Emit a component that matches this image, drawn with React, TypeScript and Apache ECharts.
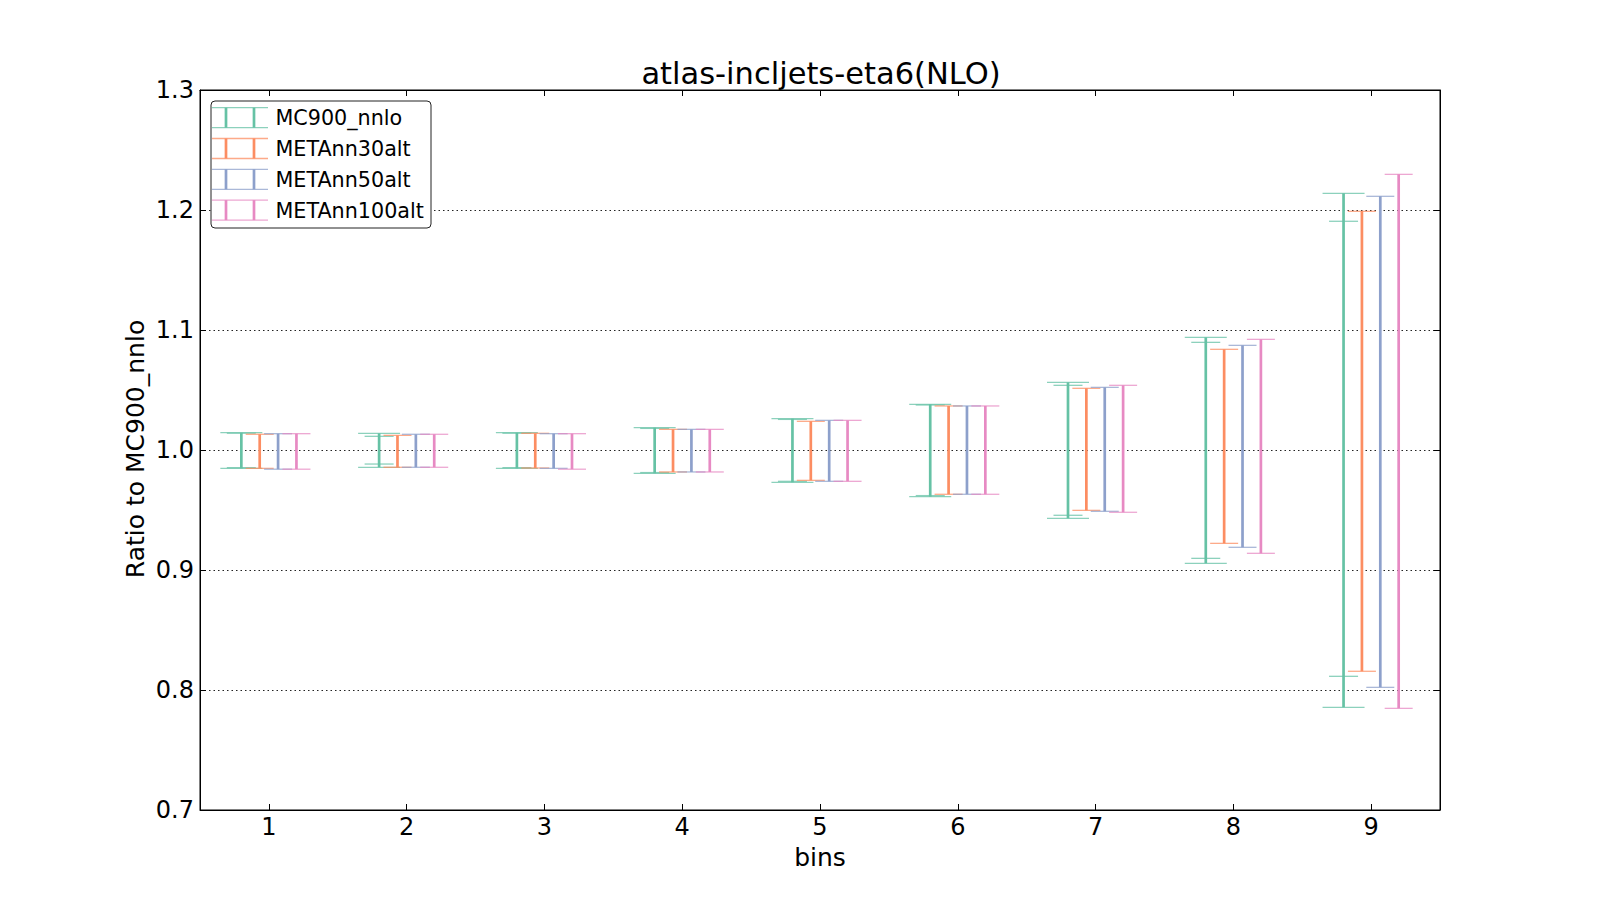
import React, { useEffect, useRef } from "react";
import * as echarts from "echarts";

const FONT = '"DejaVu Sans", "Liberation Sans", sans-serif';

const bins = [1, 2, 3, 4, 5, 6, 7, 8, 9];
const binLabels = ["1", "2", "3", "4", "5", "6", "7", "8", "9"];
const yTicks = [0.7, 0.8, 0.9, 1.0, 1.1, 1.2, 1.3];

const seriesNames = ["MC900_nnlo", "METAnn30alt", "METAnn50alt", "METAnn100alt"];
const seriesColors = ["#66c2a5", "#fc8d62", "#8da0cb", "#e78ac3"];

// MC900_nnlo reference uncertainty (outer, wide caps) and its inner band
const mc900OuterHigh = [1.0144, 1.0139, 1.0144, 1.0186, 1.0261, 1.0381, 1.0564, 1.0939, 1.2139];
const mc900OuterLow = [0.9847, 0.9856, 0.9847, 0.9806, 0.9731, 0.9611, 0.9431, 0.9056, 0.7856];
const mc900InnerHigh = [1.014, 1.0114, 1.014, 1.018, 1.0255, 1.0375, 1.0539, 1.0897, 1.1906];
const mc900InnerLow = [0.9853, 0.9883, 0.9853, 0.9812, 0.9739, 0.962, 0.9456, 0.9097, 0.8114];

const meta30High = [1.0131, 1.0122, 1.0139, 1.0172, 1.0239, 1.0367, 1.0514, 1.0839, 1.1989];
const meta30Low = [0.9847, 0.9856, 0.985, 0.9817, 0.9747, 0.9631, 0.9497, 0.9222, 0.8156];
const meta50High = [1.0136, 1.0131, 1.0136, 1.0172, 1.0247, 1.0367, 1.0522, 1.0872, 1.2114];
const meta50Low = [0.984, 0.9856, 0.9847, 0.9817, 0.9739, 0.9631, 0.9489, 0.9189, 0.8022];
const meta100High = [1.0136, 1.0131, 1.0136, 1.0172, 1.0247, 1.0367, 1.0539, 1.0922, 1.2297];
const meta100Low = [0.984, 0.9856, 0.984, 0.9817, 0.9739, 0.9631, 0.9481, 0.9139, 0.7847];

const offsets = [-0.2, -0.0667, 0.0667, 0.2];

function errSeries(
  name: string,
  low: number[],
  high: number[],
  offset: number,
  color: string,
  capHalf: number,
  drawVertical: boolean
) {
  return {
    type: "custom",
    name,
    xAxisIndex: 0,
    yAxisIndex: 0,
    data: bins.map((b, i) => [b, low[i], high[i]]),
    encode: { x: 0, y: [1, 2] },
    renderItem: (params: any, api: any) => {
      const x = api.value(0) + offset;
      const lo = api.coord([x, api.value(1)]);
      const hi = api.coord([x, api.value(2)]);
      const children: any[] = [];
      if (drawVertical) {
        children.push({
          type: "line",
          shape: { x1: hi[0], y1: hi[1], x2: lo[0], y2: lo[1] },
          style: { stroke: color, lineWidth: 2.7 },
        });
      }
      for (const p of [hi, lo]) {
        children.push({
          type: "line",
          shape: { x1: p[0] - capHalf, y1: p[1], x2: p[0] + capHalf, y2: p[1] },
          style: { stroke: color, lineWidth: 1.3, opacity: 0.75 },
        });
      }
      return { type: "group", children };
    },
  };
}

function legendGraphics() {
  const els: any[] = [];
  els.push({
    type: "rect",
    shape: { x: 211, y: 101, width: 220, height: 127, r: 4 },
    style: { fill: "#fff", stroke: "#222", lineWidth: 1 },
    z: 100,
  });
  seriesNames.forEach((n, i) => {
    const top = 107.7 + 30.8 * i;
    const bot = top + 20;
    const c = seriesColors[i];
    els.push({
      type: "line",
      shape: { x1: 212, y1: top, x2: 268, y2: top },
      style: { stroke: c, lineWidth: 1.3, opacity: 0.75 },
      z: 101,
    });
    els.push({
      type: "line",
      shape: { x1: 212, y1: bot, x2: 268, y2: bot },
      style: { stroke: c, lineWidth: 1.3, opacity: 0.75 },
      z: 101,
    });
    for (const vx of [226, 254]) {
      els.push({
        type: "line",
        shape: { x1: vx, y1: top, x2: vx, y2: bot },
        style: { stroke: c, lineWidth: 2.7 },
        z: 101,
      });
    }
    els.push({
      type: "text",
      x: 275.5,
      y: top + 10.5,
      style: {
        text: n,
        font: `20.7px ${FONT}`,
        fill: "#000",
        textAlign: "left",
        textVerticalAlign: "middle",
      },
      z: 101,
    });
  });
  return els;
}

export default function App() {
  const ref = useRef<HTMLDivElement>(null);
  useEffect(() => {
    if (!ref.current) return;
    const chart = echarts.init(ref.current, null, { renderer: "svg" });
    const axisLabelStyle = { color: "#000", fontSize: 24, fontFamily: FONT };
    chart.setOption({
      animation: false,
      backgroundColor: "#fff",
      grid: {
        left: 200,
        top: 90,
        width: 1240,
        height: 720,
        show: true,
        borderColor: "#000",
        borderWidth: 1,
        backgroundColor: "transparent",
      },
      xAxis: [
        {
          type: "value",
          min: 0.5,
          max: 9.5,
          position: "bottom",
          axisLine: { show: true, lineStyle: { color: "#000", width: 1 } },
          axisTick: {
            show: true,
            inside: true,
            length: 6,
            customValues: bins,
            lineStyle: { color: "#000" },
          },
          axisLabel: {
            ...axisLabelStyle,
            margin: 5,
            customValues: bins,
            formatter: (v: number) => binLabels[bins.indexOf(Math.round(v))] ?? "",
          },
          splitLine: { show: false },
        },
        {
          type: "value",
          min: 0.5,
          max: 9.5,
          position: "top",
          axisLine: { show: true, lineStyle: { color: "#000", width: 1 } },
          axisTick: {
            show: true,
            inside: true,
            length: 6,
            customValues: bins,
            lineStyle: { color: "#000" },
          },
          axisLabel: { show: false },
          splitLine: { show: false },
        },
      ],
      yAxis: [
        {
          type: "value",
          min: 0.7,
          max: 1.3,
          interval: 0.1,
          position: "left",
          axisLine: { show: true, lineStyle: { color: "#000", width: 1 } },
          axisTick: { show: true, inside: true, length: 6, lineStyle: { color: "#000" } },
          axisLabel: {
            ...axisLabelStyle,
            margin: 6,
            customValues: yTicks,
            formatter: (v: number) => v.toFixed(1),
          },
          splitLine: {
            show: true,
            lineStyle: { color: "#222", width: 1, type: [1.5, 3] },
          },
        },
        {
          type: "value",
          min: 0.7,
          max: 1.3,
          interval: 0.1,
          position: "right",
          axisLine: { show: true, lineStyle: { color: "#000", width: 1 } },
          axisTick: { show: true, inside: true, length: 6, lineStyle: { color: "#000" } },
          axisLabel: { show: false },
          splitLine: { show: false },
        },
      ],
      series: [
        errSeries(seriesNames[0], mc900OuterLow, mc900OuterHigh, offsets[0], seriesColors[0], 21, true),
        errSeries(seriesNames[0] + " (inner)", mc900InnerLow, mc900InnerHigh, offsets[0], seriesColors[0], 14.5, false),
        errSeries(seriesNames[1], meta30Low, meta30High, offsets[1], seriesColors[1], 14, true),
        errSeries(seriesNames[2], meta50Low, meta50High, offsets[2], seriesColors[2], 14, true),
        errSeries(seriesNames[3], meta100Low, meta100High, offsets[3], seriesColors[3], 14, true),
      ],
      graphic: [
        {
          type: "text",
          x: 821,
          y: 73.5,
          style: {
            text: "atlas-incljets-eta6(NLO)",
            font: `30.5px ${FONT}`,
            fill: "#000",
            textAlign: "center",
            textVerticalAlign: "middle",
          },
        },
        {
          type: "text",
          x: 820,
          y: 857,
          style: {
            text: "bins",
            font: `25px ${FONT}`,
            fill: "#000",
            textAlign: "center",
            textVerticalAlign: "middle",
          },
        },
        {
          type: "text",
          x: 135.5,
          y: 449,
          rotation: Math.PI / 2,
          style: {
            text: "Ratio to MC900_nnlo",
            font: `25px ${FONT}`,
            fill: "#000",
            textAlign: "center",
            textVerticalAlign: "middle",
          },
        },
        ...legendGraphics(),
      ],
    });
    return () => chart.dispose();
  }, []);
  return (
    <div
      ref={ref}
      style={{ position: "fixed", left: 0, top: 0, width: 1600, height: 900, background: "#fff" }}
    />
  );
}
